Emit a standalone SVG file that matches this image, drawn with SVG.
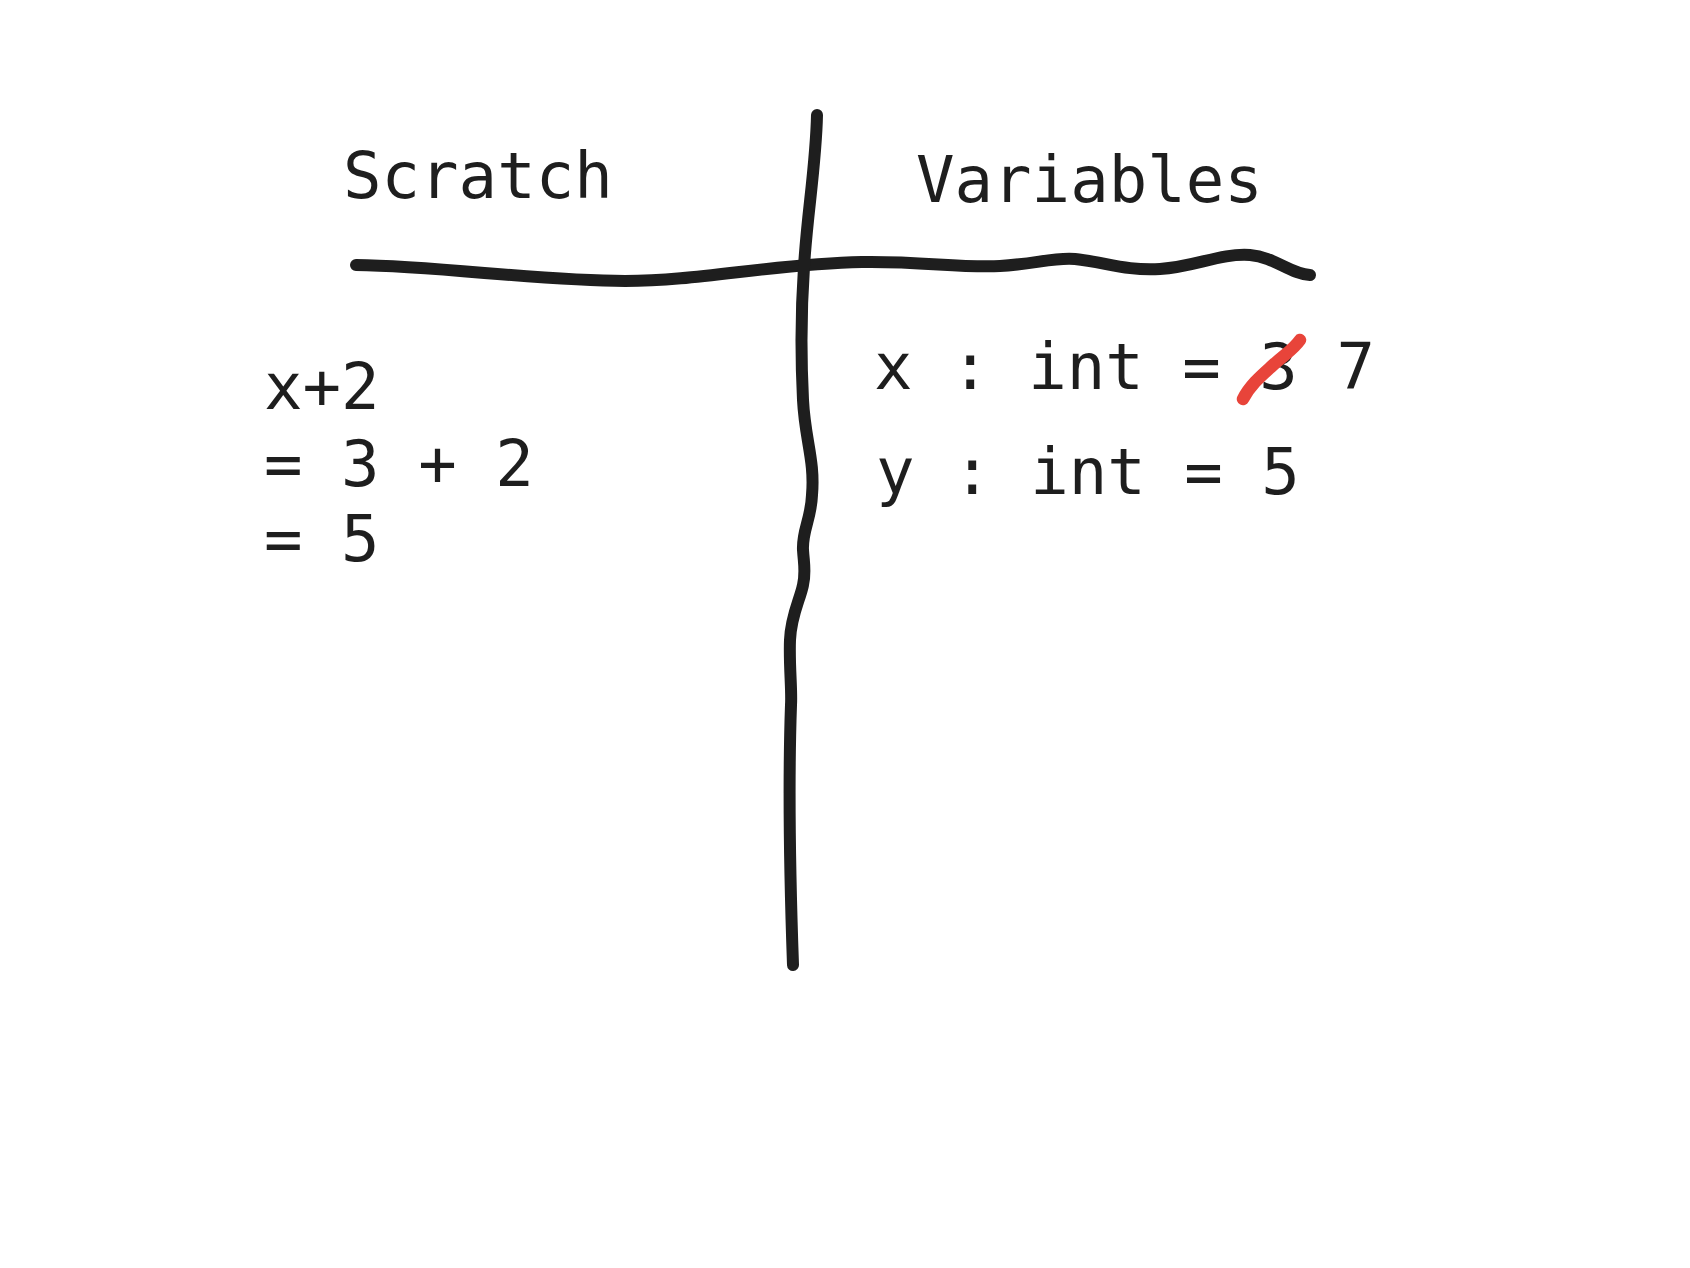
<svg xmlns="http://www.w3.org/2000/svg" width="1690" height="1268" viewBox="0 0 1690 1268">
  <style>
    .t { font-family: "DejaVu Sans Mono", "Liberation Mono", monospace; font-size: 64px; fill: #1e1e1e; }
    .ln { fill: none; stroke: #1e1e1e; stroke-width: 12; stroke-linecap: round; stroke-linejoin: round; }
    .strike { fill: none; stroke: #e8443a; stroke-width: 12.5; stroke-linecap: round; stroke-linejoin: round; }
  </style>
  <rect width="1690" height="1268" fill="#ffffff"/>
  <g id="connectors">
    <path class="ln" d="M356,265 C440,266 540,281 625,281 C700,281 770,264 862,262 C920,261 960,268 1000,266 C1035,264 1055,257 1075,259 C1105,262 1125,271 1160,269 C1195,267 1220,253 1250,255 C1275,257 1290,274 1310,275"/>
    <path class="ln" d="M817,115 C816,165 807,215 804,267 C801,310 801,360 803,400 C805,440 815,460 812,495 C811,520 802,530 803,550 C804,565 806,572 803,585 C800,600 791,615 790,640 C789,665 792,690 791,705 C788,790 790,880 793,965"/>
  </g>
  <g id="scratch-heading">
    <text class="t" x="343" y="198">Scratch</text>
  </g>
  <g id="variables-heading">
    <text class="t" x="916" y="202">Variables</text>
  </g>
  <g id="scratch-work">
    <text class="t" x="264" y="409">x+2</text>
    <text class="t" x="264" y="486">= 3 + 2</text>
    <text class="t" x="264" y="561">= 5</text>
  </g>
  <g id="var-x">
    <text class="t" x="874" y="389">x : int = 3 7</text>
    <path class="strike" d="M1243,399 C1250,385 1262,375 1272,366 C1285,354 1293,350 1300,340"/>
  </g>
  <g id="var-y">
    <text class="t" x="876" y="494">y : int = 5</text>
  </g>
</svg>
